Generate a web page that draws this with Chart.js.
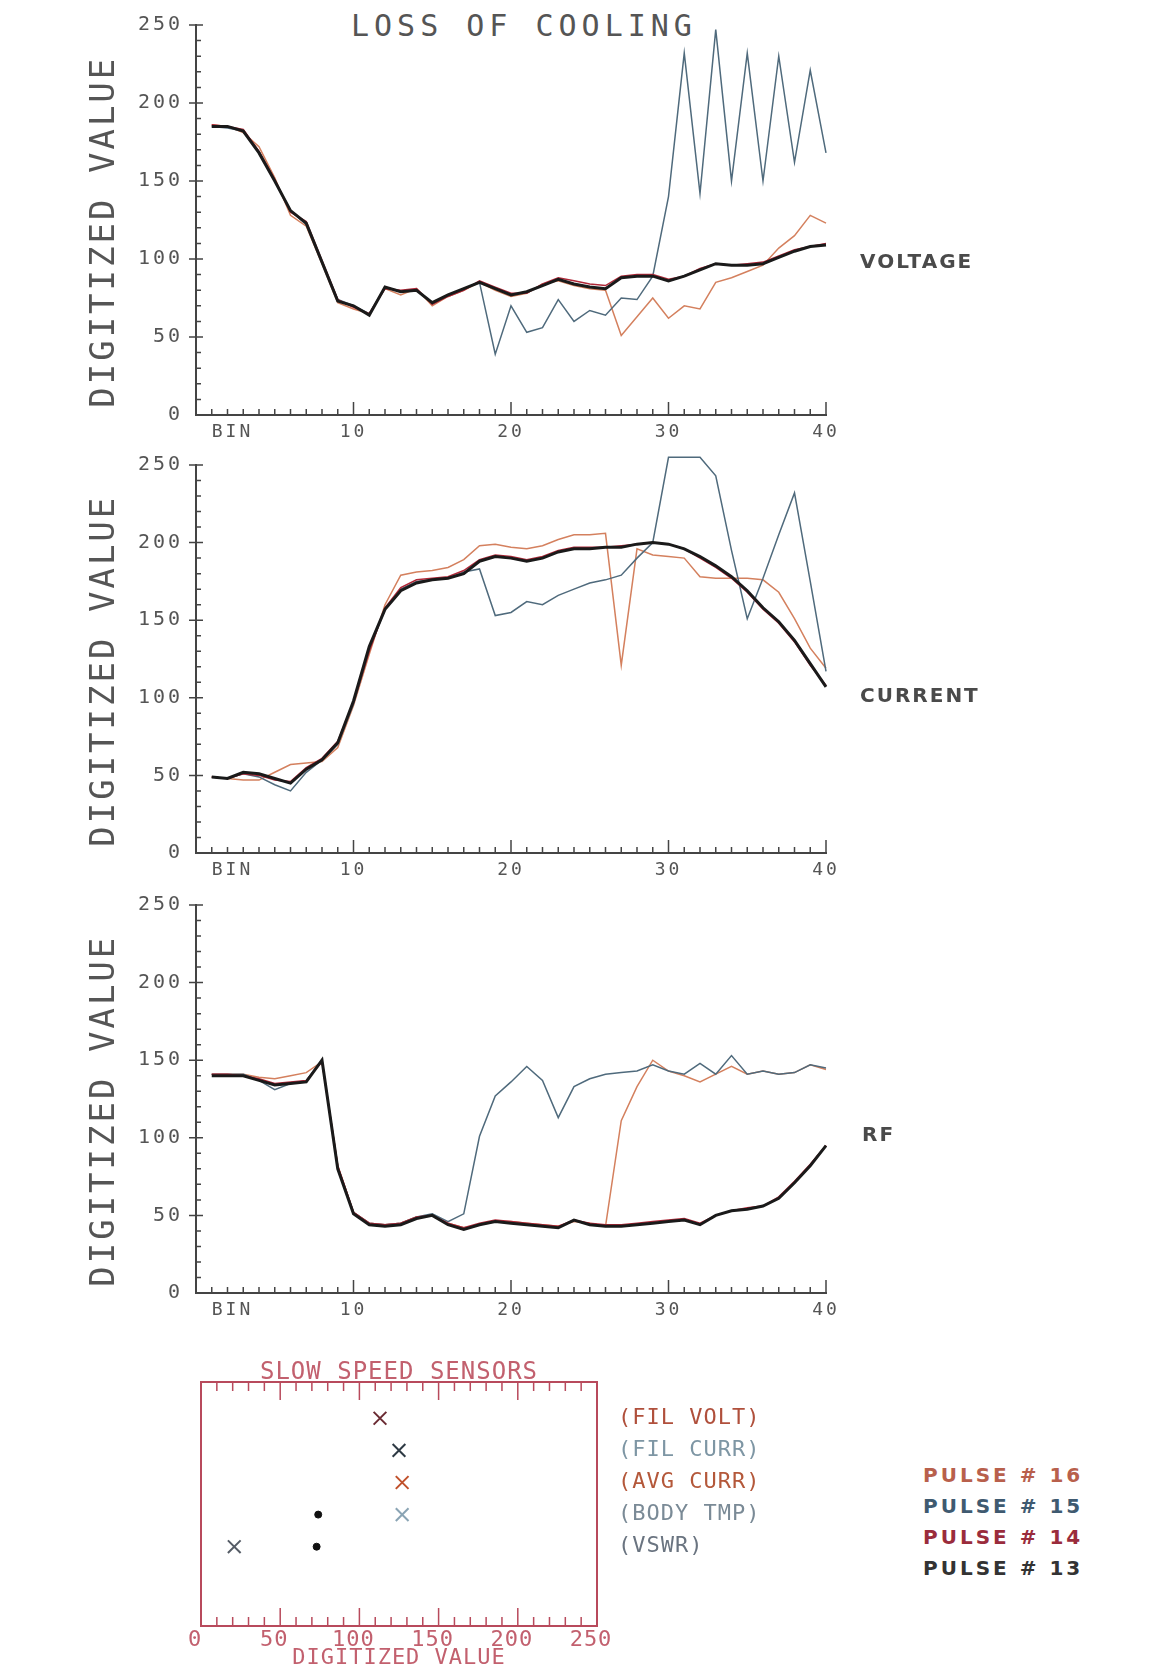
<!DOCTYPE html>
<html>
<head>
<meta charset="utf-8">
<script src="https://cdn.jsdelivr.net/npm/chart.js@4.4.1/dist/chart.umd.min.js"></script>
<style>
  html, body { margin: 0; padding: 0; background: #fff; }
  body { width: 1166px; height: 1668px; overflow: hidden; position: relative; }
  canvas { position: absolute; left: 0; }
  .txt { position: absolute; white-space: pre; line-height: 1; }
  #title { left: 351px; top: 8px; font: 30px 'DejaVu Sans Mono', monospace; letter-spacing: 5px; color: #555; }
  .side { font: bold 20px 'DejaVu Sans', sans-serif; letter-spacing: 2px; color: #4a4a4a; }
  #pulses { left: 923px; top: 1460px; font: bold 20px 'DejaVu Sans', sans-serif; letter-spacing: 3px; line-height: 31px; }
</style>
</head>
<body>
<div class="txt" id="title">LOSS OF COOLING</div>
<canvas id="voltage" width="880" height="440" style="top:0"></canvas>
<canvas id="current" width="880" height="440" style="top:440px"></canvas>
<canvas id="rf" width="880" height="440" style="top:880px"></canvas>
<canvas id="sensors" width="900" height="340" style="top:1340px"></canvas>
<div class="txt side" style="left:860px; top:249px">VOLTAGE</div>
<div class="txt side" style="left:860px; top:683px">CURRENT</div>
<div class="txt side" style="left:862px; top:1122px">RF</div>
<div class="txt" id="pulses"></div>

<script>
// --- DATA ---
const bins = [1,2,3,4,5,6,7,8,9,10,11,12,13,14,15,16,17,18,19,20,21,22,23,24,25,26,27,28,29,30,31,32,33,34,35,36,37,38,39,40];
const xTicks = [10, 20, 30, 40];
const yTicks = [0, 50, 100, 150, 200, 250];

const pulseNames = ['PULSE # 16', 'PULSE # 15', 'PULSE # 14', 'PULSE # 13'];

const voltage16 = [186,185,181,172,152,128,121,97,72,68, 65,81,77,81,70,76,80,85,80,76, 78,84,86,83,81,80,51,63,75,62, 70,68,85,88,92,96,107,115,128,123];
const voltage15 = [185,184,182,169,150,131,122,98,74,70, 65,82,79,80,72,77,81,85,39,70, 53,56,74,60,67,64,75,74,89,140, 232,142,247,150,232,150,230,162,221,168];
const voltage14 = [186,185,183,169,151,130,124,99,74,69, 65,81,80,81,71,76,80,86,82,78, 78,84,88,86,84,83,89,90,90,87, 89,94,97,96,97,98,102,106,108,110];
const voltage13 = [185,185,182,168,150,131,123,98,73,70, 64,82,79,80,72,77,81,85,81,77, 79,83,87,84,82,81,88,89,89,86, 89,93,97,96,96,97,101,105,108,109];

const current16 = [49,48,47,47,52,57,58,59,68,95, 128,160,179,181,182,184,189,198,199,197, 196,198,202,205,205,206,121,196,192,191, 190,178,177,177,177,176,168,151,132,119];
const current15 = [49,48,51,49,44,40,52,60,70,96, 131,157,170,175,176,177,181,183,153,155, 162,160,166,170,174,176,179,190,200,255, 255,255,243,195,151,177,205,232,175,117];
const current14 = [49,48,51,50,47,46,55,61,72,97, 130,158,171,176,177,178,182,189,192,191, 189,191,195,197,197,197,198,199,200,199, 196,190,184,177,168,157,148,136,121,108];
const current13 = [49,48,52,51,48,45,54,60,71,98, 133,157,169,174,176,177,180,188,191,190, 188,190,194,196,196,197,197,199,200,199, 196,191,185,178,169,158,149,137,122,107];

const rf16 = [141,141,141,139,138,140,142,149,82,52, 45,44,45,49,50,45,42,44,46,46, 45,44,43,46,45,43,111,133,150,143, 140,136,141,146,141,143,141,142,147,144];
const rf15 = [141,141,141,137,131,135,137,150,81,52, 45,44,45,49,51,46,51,101,127,136, 146,137,113,133,138,141,142,143,147,143, 141,148,141,153,141,143,141,142,147,145];
const rf14 = [141,141,140,138,135,136,137,149,82,52, 45,44,45,49,50,45,42,45,47,46, 45,44,43,47,45,44,44,45,46,47, 48,45,50,53,55,56,62,72,83,95];
const rf13 = [140,140,140,137,134,135,136,150,80,51, 44,43,44,48,50,44,41,44,46,45, 44,43,42,47,44,43,43,44,45,46, 47,44,50,53,54,56,61,71,82,95];

// slow speed sensors (rows top to bottom)
const sensorNames = ['(FIL VOLT)', '(FIL CURR)', '(AVG CURR)', '(BODY TMP)', '(VSWR)'];
const sensorRows = [4, 3, 2, 1, 0];
const crossValues = [113, 125, 127, 127, 21];
const dotRows = [1, 0];
const dotValues = [74, 73];
const sensorTicks = [0, 50, 100, 150, 200, 250];

// --- STYLE ---
const mono = "'DejaVu Sans Mono', monospace";
const pulseColors = ['#d4805e', '#4f6a7c', '#b02838', '#1a1a1a'];
const pulseTextColors = ['#b8604c', '#3f5a70', '#9a2c3c', '#333333'];
const crossColors = ['#6a2a32', '#2e3a44', '#c0502a', '#8aa4b4', '#555c66'];
const sensorTextColors = ['#b0503c', '#7e96a4', '#b4583a', '#7a8a96', '#6a7480'];
const axisGray = '#444';
const pink = '#b84a5c';
const pinkText = '#c2606e';
const xLabelPad = 7;

Chart.defaults.font.family = mono;

// canvas letter spacing, to get the wide plotter lettering
const spacing = {
    id: 'spacing',
    beforeUpdate(chart, args, opts) { chart.ctx.letterSpacing = opts.px + 'px'; },
    beforeDraw(chart, args, opts) { chart.ctx.letterSpacing = opts.px + 'px'; }
};

// inward tick marks like the plotter axes
const plotterTicks = {
    id: 'plotterTicks',
    afterDraw(chart, args, opts) {
        const { ctx, chartArea: a, scales } = chart;
        ctx.save();
        ctx.strokeStyle = opts.color;
        ctx.lineWidth = 1.5;
        ctx.beginPath();
        if (opts.kind === 'line') {
            bins.forEach(b => {
                const px = scales.x.getPixelForValue(b);
                const len = b % 10 === 0 ? 13 : 6;
                ctx.moveTo(px, a.bottom); ctx.lineTo(px, a.bottom - len);
            });
            for (let v = 10; v <= 250; v += 10) {
                const py = scales.y.getPixelForValue(v);
                if (v % 50 === 0) { ctx.moveTo(a.left - 7, py); ctx.lineTo(a.left + 7, py); }
                else { ctx.moveTo(a.left, py); ctx.lineTo(a.left + 5, py); }
            }
        } else {
            for (let v = 10; v < 250; v += 10) {
                const px = scales.x.getPixelForValue(v);
                const len = v % 50 === 0 ? 18 : 9;
                ctx.moveTo(px, a.bottom); ctx.lineTo(px, a.bottom - len);
                ctx.moveTo(px, a.top); ctx.lineTo(px, a.top + len);
            }
        }
        ctx.stroke();
        if (opts.kind === 'line') {
            // "BIN" starts at the first bin
            ctx.fillStyle = '#555';
            ctx.font = '18px ' + mono;
            ctx.textAlign = 'left';
            ctx.textBaseline = 'middle';
            ctx.fillText('BIN', scales.x.getPixelForValue(bins[0]), a.bottom + xLabelPad + 10.8);
        }
        ctx.restore();
    }
};

function lineChart(id, series, padTop, axisH) {
    return new Chart(document.getElementById(id), {
        type: 'line',
        data: {
            datasets: series.map((vals, i) => ({
                data: vals.map((v, k) => ({ x: bins[k], y: v })),
                borderColor: pulseColors[i],
                borderWidth: i === 3 ? 3 : 1.5,
                pointRadius: 0,
                tension: 0,
                clip: false,
                order: 3 - i
            }))
        },
        options: {
            responsive: false,
            animation: false,
            events: [],
            layout: { padding: { top: padTop, right: 54, left: 0, bottom: 0 } },
            plugins: {
                legend: { display: false },
                tooltip: { enabled: false },
                spacing: { px: 3 },
                plotterTicks: { kind: 'line', color: axisGray }
            },
            scales: {
                x: {
                    type: 'linear', min: 0, max: 40,
                    grid: { display: false, drawTicks: false },
                    border: { color: axisGray, width: 2 },
                    afterBuildTicks: s => { s.ticks = xTicks.map(v => ({ value: v })); },
                    ticks: { font: { size: 18 }, color: '#555', padding: xLabelPad, maxRotation: 0, autoSkip: false },
                    afterFit: s => { s.height = axisH; }
                },
                y: {
                    min: 0, max: 250,
                    grid: { display: false, drawTicks: false },
                    border: { color: axisGray, width: 2 },
                    afterBuildTicks: s => { s.ticks = yTicks.map(v => ({ value: v })); },
                    ticks: { font: { size: 20 }, color: '#555', padding: 13 },
                    // trailing space nudges the rotated title a little lower, as on the plot
                    title: { display: true, text: 'DIGITIZED VALUE ', font: { size: 34 }, color: '#555', padding: { top: 85, bottom: 0 } },
                    afterFit: s => { s.width = 196; }
                }
            }
        },
        plugins: [spacing, plotterTicks]
    });
}

// order: pulse 16, 15, 14, 13 (black on top)
lineChart('voltage', [voltage16, voltage15, voltage14, voltage13], 22, 23);
lineChart('current', [current16, current15, current14, current13], 20, 27);
lineChart('rf', [rf16, rf15, rf14, rf13], 18, 27);

// --- SLOW SPEED SENSORS ---
new Chart(document.getElementById('sensors'), {
    type: 'scatter',
    data: {
        datasets: [
            {
                data: crossValues.map((v, i) => ({ x: v, y: sensorRows[i] })),
                pointStyle: 'crossRot',
                pointRadius: 9,
                pointBorderWidth: 2,
                pointBorderColor: crossColors,
                clip: false
            },
            {
                data: dotValues.map((v, i) => ({ x: v, y: dotRows[i] })),
                pointStyle: 'circle',
                pointRadius: 3.5,
                pointBackgroundColor: '#111',
                pointBorderColor: '#111',
                clip: false
            }
        ]
    },
    options: {
        responsive: false,
        animation: false,
        events: [],
        layout: { padding: 0 },
        plugins: {
            legend: { display: false },
            tooltip: { enabled: false },
            spacing: { px: 1 },
            plotterTicks: { kind: 'scatter', color: pink }
        },
        scales: {
            x: {
                type: 'linear', position: 'bottom', min: 0, max: 250,
                grid: { display: false, drawTicks: false },
                border: { color: pink, width: 2 },
                afterBuildTicks: s => { s.ticks = sensorTicks.map(v => ({ value: v })); },
                ticks: { font: { size: 22 }, color: pinkText, padding: 1, labelOffset: -6, maxRotation: 0 },
                title: { display: true, text: 'DIGITIZED VALUE', font: { size: 22 }, color: pinkText, padding: { top: 0, bottom: 9 } },
                afterFit: s => { s.height = 54; }
            },
            x2: {
                type: 'linear', position: 'top', min: 0, max: 250,
                grid: { display: false, drawTicks: false },
                border: { color: pink, width: 2 },
                ticks: { display: false },
                title: { display: true, text: 'SLOW SPEED SENSORS', font: { size: 24 }, color: pinkText, padding: { top: 18, bottom: 0 } },
                afterFit: s => { s.height = 42; }
            },
            y: {
                position: 'right', min: -2.47, max: 5.13,
                grid: { display: false, drawTicks: false },
                border: { color: pink, width: 2 },
                afterBuildTicks: s => { s.ticks = sensorRows.map(v => ({ value: v })); },
                ticks: {
                    font: { size: 22 }, padding: 21,
                    color: c => sensorTextColors[sensorRows.indexOf(c.tick.value)],
                    callback: v => sensorNames[sensorRows.indexOf(v)]
                },
                afterFit: s => { s.width = 303; }
            },
            yL: {
                position: 'left', min: -2.47, max: 5.13,
                grid: { display: false, drawTicks: false },
                border: { color: pink, width: 2 },
                ticks: { display: false },
                afterFit: s => { s.width = 201; }
            }
        }
    },
    plugins: [spacing, plotterTicks]
});

// --- PULSE KEY ---
document.getElementById('pulses').innerHTML = pulseNames
    .map((n, i) => `<div style="color:${pulseTextColors[i]}">${n}</div>`)
    .join('');
</script>
</body>
</html>
